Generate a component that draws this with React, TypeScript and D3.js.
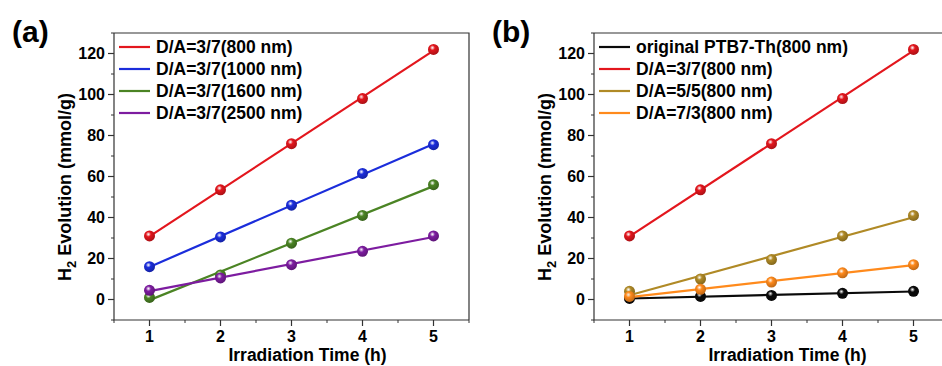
import React from 'react';
import * as d3 from 'd3';

const times = [1, 2, 3, 4, 5];

// panel (a): same D/A ratio, different film thickness
const seriesA = [
  { name: 'D/A=3/7(800 nm)', color: '#e3161d', values: [31, 53.5, 76, 98, 122] },
  { name: 'D/A=3/7(1000 nm)', color: '#1b2ddb', values: [16, 30.5, 46, 61.5, 75.5] },
  { name: 'D/A=3/7(1600 nm)', color: '#4b8424', values: [1, 12, 27.5, 41, 56] },
  { name: 'D/A=3/7(2500 nm)', color: '#7d1ca0', values: [4.5, 10.5, 17, 23.5, 31] },
];

// panel (b): different D/A ratio at 800 nm
const seriesB = [
  { name: 'original PTB7-Th(800 nm)', color: '#0a0a0a', values: [0.5, 1.5, 2, 3, 4] },
  { name: 'D/A=3/7(800 nm)', color: '#e3161d', values: [31, 53.5, 76, 98, 122] },
  { name: 'D/A=5/5(800 nm)', color: '#b08a26', values: [4, 10, 19.5, 31, 41] },
  { name: 'D/A=7/3(800 nm)', color: '#ff8a1c', values: [1.5, 5, 8.5, 13, 17] },
];

const yTicks = [0, 20, 40, 60, 80, 100, 120];
const yMinor = [-10, 10, 30, 50, 70, 90, 110, 130];
const xMinor = [0.5, 1.5, 2.5, 3.5, 4.5, 5.5];

const FONT = 'Liberation Sans, Arial, sans-serif';

type Series = { name: string; color: string; values: number[] };

function fit(xs: number[], ys: number[]) {
  const mx = d3.mean(xs)!;
  const my = d3.mean(ys)!;
  const slope = d3.sum(xs, (x, i) => (x - mx) * (ys[i] - my)) / d3.sum(xs, x => (x - mx) ** 2);
  return (x: number) => my + slope * (x - mx);
}

function Panel({ left, label, series, id }: { left: number; label: string; series: Series[]; id: string }) {
  const x = d3.scaleLinear().domain([0.5, 5.5]).range([left, left + 355]);
  const y = d3.scaleLinear().domain([-10, 130]).range([320, 33]);
  const x0 = x.range()[0];
  const x1 = x.range()[1];
  const [yb, yt] = y.range();
  return (
    <g>
      <defs>
        {series.map((s, i) => (
          <radialGradient key={i} id={`${id}g${i}`} cx="40%" cy="35%" r="65%">
            <stop offset="0%" stopColor="#ffffff" stopOpacity={0.85} />
            <stop offset="35%" stopColor={s.color} />
            <stop offset="100%" stopColor={d3.color(s.color)!.darker(0.8).toString()} />
          </radialGradient>
        ))}
      </defs>
      <text x={left - 102} y={42} fontFamily={FONT} fontWeight="bold" fontSize={30}>{label}</text>
      {/* frame */}
      <path d={`M${x0},${yt}V${yb}H${x1}M${x0},${yt}H${x1}V${yb}`} fill="none" stroke="#333" strokeWidth={1.2} />
      {yTicks.map(t => (
        <g key={t}>
          <line x1={x0 - 6} x2={x0} y1={y(t)} y2={y(t)} stroke="#333" strokeWidth={1.2} />
          <text x={x0 - 9} y={y(t)} dy="0.36em" textAnchor="end" fontFamily={FONT} fontWeight="bold" fontSize={16}>{t}</text>
        </g>
      ))}
      {yMinor.map(t => (
        <line key={t} x1={x0 - 3} x2={x0} y1={y(t)} y2={y(t)} stroke="#333" strokeWidth={1} />
      ))}
      {times.map(t => (
        <g key={t}>
          <line x1={x(t)} x2={x(t)} y1={yb} y2={yb + 6} stroke="#333" strokeWidth={1.2} />
          <text x={x(t)} y={yb + 22} textAnchor="middle" fontFamily={FONT} fontWeight="bold" fontSize={16}>{t}</text>
        </g>
      ))}
      {xMinor.map(t => (
        <line key={t} x1={x(t)} x2={x(t)} y1={yb} y2={yb + 3} stroke="#333" strokeWidth={1} />
      ))}
      <text x={(x0 + x1) / 2 + 16} y={361} textAnchor="middle" fontFamily={FONT} fontWeight="bold" fontSize={17.5}>Irradiation Time (h)</text>
      <text transform={`translate(${left - 43},${187}) rotate(-90)`} textAnchor="middle" fontFamily={FONT} fontWeight="bold" fontSize={18}>
        H<tspan fontSize={13} dy={5}>2</tspan><tspan dy={-5}> Evolution (mmol/g)</tspan>
      </text>
      {series.map((s, i) => {
        const f = fit(times, s.values);
        return (
          <g key={i}>
            <line x1={x(1)} y1={y(f(1))} x2={x(5)} y2={y(f(5))} stroke={s.color} strokeWidth={2.2} />
            {s.values.map((v, j) => (
              <circle key={j} cx={x(times[j])} cy={y(v)} r={5.5} fill={`url(#${id}g${i})`} />
            ))}
          </g>
        );
      })}
      {series.map((s, i) => (
        <g key={i} transform={`translate(${x0 + 5},${47 + i * 22})`}>
          <line x1={0} x2={31} y1={0} y2={0} stroke={s.color} strokeWidth={2.2} />
          <text x={37} y={0} dy="0.36em" fontFamily={FONT} fontWeight="bold" fontSize={17.5}>{s.name}</text>
        </g>
      ))}
    </g>
  );
}

export default function App() {
  return (
    <svg width={942} height={366} style={{ position: 'absolute', left: 0, top: 0, background: '#fff' }}>
      <Panel left={114} label="(a)" series={seriesA} id="a" />
      <Panel left={594} label="(b)" series={seriesB} id="b" />
    </svg>
  );
}
